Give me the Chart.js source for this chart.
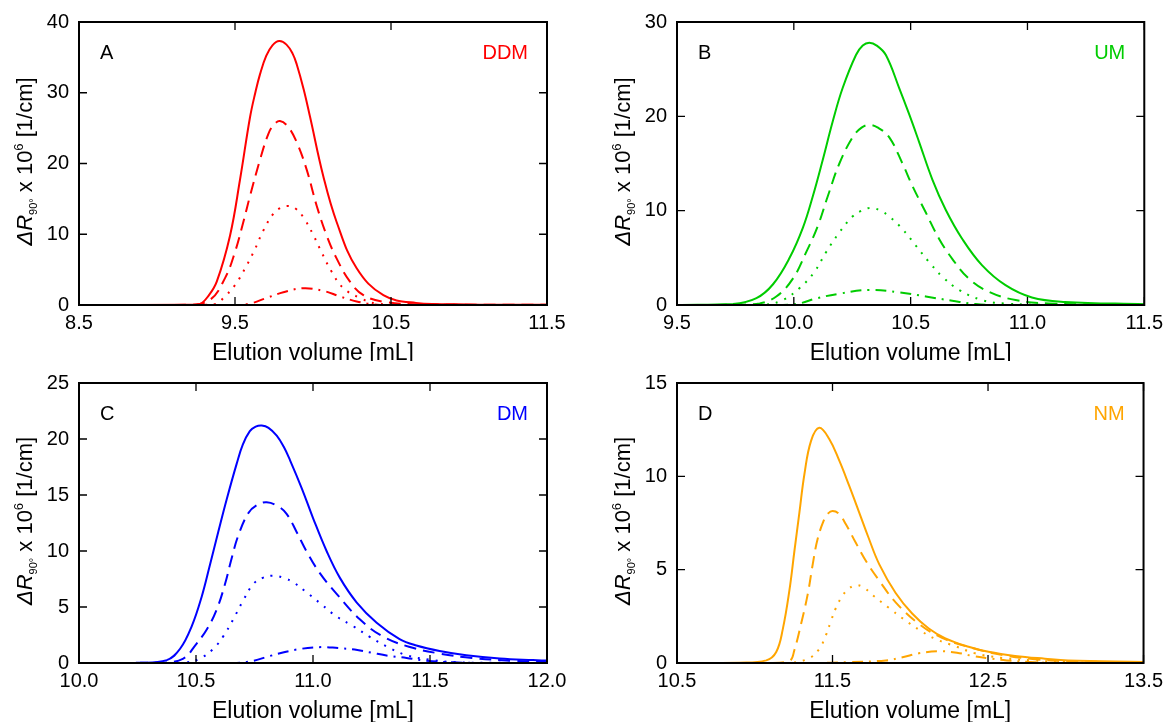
<!DOCTYPE html>
<html>
<head>
<meta charset="utf-8">
<script src="https://cdn.jsdelivr.net/npm/chart.js@4"></script>
<style>
  html, body { margin:0; padding:0; background:#fff; }
  #wrap { position:relative; width:1169px; height:722px; overflow:hidden; }
  #wrap canvas { position:absolute; }
</style>
</head>
<body>
<div id="wrap">
  <canvas id="cA" width="584" height="361" style="left:0;top:0"></canvas>
  <canvas id="cB" width="585" height="361" style="left:584px;top:0"></canvas>
  <canvas id="cC" width="584" height="361" style="left:0;top:361px"></canvas>
  <canvas id="cD" width="585" height="361" style="left:584px;top:361px"></canvas>
</div>
<script>
// elution volume [mL], dR90 x 10^6 [1/cm]
const ddmSolid = [[8.5,0],[9.2,0.05],[9.276,0.15],[9.33,1.3],[9.383,3.3],[9.468,9.8],[9.532,17.7],[9.596,26.5],[9.63,30.0],[9.66,32.6],[9.70,35.2],[9.74,36.7],[9.784,37.3],[9.83,36.8],[9.87,35.5],[9.896,34.0],[9.94,30.5],[9.981,26.6],[10.066,18.2],[10.152,11.7],[10.28,5.2],[10.451,1.4],[10.66,0.3],[11.0,0.08],[11.5,0.03]];
const ddmDashed = [[8.5,0],[9.2,0.02],[9.34,0.74],[9.436,3.8],[9.5,7.5],[9.553,11.7],[9.596,15.4],[9.66,20.5],[9.714,24.2],[9.75,25.5],[9.788,26.0],[9.84,25.2],[9.896,23.0],[9.96,19.1],[10.024,14.0],[10.088,9.8],[10.152,6.55],[10.237,3.3],[10.323,1.4],[10.451,0.47],[10.7,0.1],[11.5,0.02]];
const ddmDotted = [[8.5,0],[9.3,0.02],[9.383,0.2],[9.426,1.0],[9.5,2.8],[9.575,5.6],[9.628,7.9],[9.681,10.5],[9.746,12.9],[9.79,13.7],[9.842,14.0],[9.89,13.6],[9.938,12.4],[10.002,9.9],[10.056,7.4],[10.12,4.7],[10.194,2.4],[10.301,1.0],[10.408,0.2],[10.6,0.05],[11.5,0]];
const ddmDashDot = [[8.5,0],[9.5,0],[9.596,0.2],[9.703,1.0],[9.81,1.8],[9.938,2.37],[10.066,2.0],[10.173,1.2],[10.28,0.5],[10.387,0.1],[10.5,0],[11.5,0]];

const umSolid = [[9.5,0],[9.74,0.1],[9.84,0.73],[9.911,2.2],[9.982,5.0],[10.039,8.2],[10.081,11.5],[10.124,15.4],[10.167,19.5],[10.209,23.0],[10.266,26.5],[10.295,27.5],[10.323,27.8],[10.355,27.5],[10.394,26.5],[10.451,23.0],[10.494,20.2],[10.536,17.3],[10.593,13.3],[10.65,10.1],[10.721,7.0],[10.806,4.2],[10.906,2.1],[11.019,0.8],[11.161,0.33],[11.5,0.08]];
const umDashed = [[9.5,0],[9.75,0.03],[9.854,0.17],[9.925,0.9],[9.996,2.8],[10.053,5.6],[10.103,8.4],[10.145,11.5],[10.195,15.0],[10.252,17.8],[10.29,18.8],[10.323,19.1],[10.36,18.8],[10.408,17.8],[10.465,15.0],[10.508,12.6],[10.565,9.8],[10.622,7.0],[10.678,4.9],[10.749,2.8],[10.835,1.4],[10.949,0.52],[11.091,0.17],[11.5,0.03]];
const umDotted = [[9.5,0],[9.8,0],[9.882,0.05],[9.953,0.52],[10.025,1.8],[10.088,3.5],[10.138,5.6],[10.195,7.7],[10.252,9.4],[10.29,10.0],[10.33,10.3],[10.37,10.0],[10.408,9.4],[10.465,8.05],[10.522,6.3],[10.579,4.55],[10.636,3.0],[10.707,1.6],[10.806,0.52],[10.906,0.15],[11.1,0.03],[11.5,0]];
const umDashDot = [[9.5,0],[9.953,0],[10.025,0.17],[10.096,0.7],[10.195,1.2],[10.323,1.6],[10.451,1.35],[10.565,0.9],[10.678,0.45],[10.778,0.1],[10.9,0],[11.5,0]];

const dmSolid = [[10.0,0],[10.261,0.02],[10.375,0.26],[10.432,1.27],[10.482,3.3],[10.524,5.9],[10.56,8.8],[10.595,11.7],[10.631,14.6],[10.674,17.8],[10.70,19.5],[10.73,20.7],[10.755,21.1],[10.781,21.2],[10.81,21.0],[10.845,20.3],[10.875,19.3],[10.902,18.1],[10.952,15.6],[11.001,12.9],[11.058,10.0],[11.115,7.6],[11.187,5.4],[11.272,3.6],[11.37,2.14],[11.442,1.56],[11.541,1.07],[11.655,0.69],[11.798,0.4],[11.94,0.26],[12.0,0.22]];
const dmDashed = [[10.0,0],[10.35,0.03],[10.446,0.4],[10.496,1.56],[10.546,3.0],[10.588,4.75],[10.624,7.05],[10.653,9.4],[10.681,11.4],[10.724,13.4],[10.76,14.1],[10.802,14.35],[10.85,14.0],[10.888,13.3],[10.93,11.7],[10.973,9.95],[11.03,8.0],[11.1,6.2],[11.2,3.9],[11.3,2.35],[11.41,1.45],[11.54,0.85],[11.68,0.45],[11.85,0.2],[12.0,0.1]];
const dmDotted = [[10.0,0],[10.4,0],[10.46,0.05],[10.517,0.4],[10.574,1.27],[10.617,2.4],[10.659,3.9],[10.702,5.6],[10.745,7.05],[10.785,7.6],[10.83,7.8],[10.875,7.6],[10.916,7.2],[10.971,6.34],[11.036,5.24],[11.1,4.17],[11.171,3.3],[11.242,2.34],[11.32,1.42],[11.4,0.69],[11.5,0.3],[11.6,0.08],[11.8,0.02],[12.0,0]];
const dmDashDot = [[10.0,0],[10.659,0],[10.745,0.2],[10.816,0.63],[10.93,1.2],[11.036,1.42],[11.107,1.33],[11.178,1.2],[11.25,0.92],[11.32,0.65],[11.4,0.45],[11.48,0.22],[11.6,0.06],[11.75,0],[12.0,0]];

const nmSolid = [[10.5,0],[10.903,0.02],[11.074,0.14],[11.138,0.59],[11.18,1.8],[11.223,3.9],[11.255,6.0],[11.287,8.05],[11.319,10.1],[11.362,11.9],[11.415,12.6],[11.479,12.0],[11.543,10.85],[11.607,9.5],[11.67,8.1],[11.73,6.75],[11.8,5.3],[11.906,3.75],[12.012,2.65],[12.119,1.85],[12.226,1.32],[12.375,0.87],[12.503,0.6],[12.674,0.38],[12.866,0.23],[13.015,0.14],[13.5,0.06]];
const nmDashed = [[10.5,0],[11.1,0],[11.223,0.1],[11.255,0.7],[11.298,2.1],[11.341,3.7],[11.373,5.3],[11.405,6.67],[11.447,7.7],[11.47,8.0],[11.5,8.14],[11.54,8.0],[11.585,7.45],[11.649,6.45],[11.72,5.4],[11.799,4.43],[11.906,3.25],[12.055,2.1],[12.204,1.35],[12.4,0.8],[12.6,0.42],[12.8,0.2],[13.0,0.1],[13.5,0.03]];
const nmDotted = [[10.5,0],[11.15,0],[11.244,0.02],[11.351,0.26],[11.415,0.76],[11.458,1.5],[11.49,2.25],[11.522,2.95],[11.564,3.6],[11.6,3.95],[11.649,4.17],[11.7,4.05],[11.756,3.65],[11.863,2.95],[11.959,2.34],[12.066,1.73],[12.172,1.25],[12.29,0.9],[12.417,0.52],[12.598,0.26],[12.78,0.14],[13.0,0.05],[13.5,0]];
const nmDashDot = [[10.5,0],[11.4,0],[11.607,0.05],[11.843,0.14],[11.95,0.31],[12.055,0.52],[12.18,0.63],[12.3,0.55],[12.406,0.37],[12.5,0.26],[12.62,0.14],[12.8,0.04],[13.0,0],[13.5,0]];

const xTicksA = [8.5, 9.5, 10.5, 11.5];
const xTicksB = [9.5, 10.0, 10.5, 11.0, 11.5];
const xTicksC = [10.0, 10.5, 11.0, 11.5, 12.0];
const xTicksD = [10.5, 11.5, 12.5, 13.5];
const yTicksA = [0, 10, 20, 30, 40];
const yTicksB = [0, 10, 20, 30];
const yTicksC = [0, 5, 10, 15, 20, 25];
const yTicksD = [0, 5, 10, 15];

const FONT = '"Liberation Sans", Arial, sans-serif';
const dashes = [[], [12, 7], [2, 7], [11, 6, 2, 6]];

const framePlugin = {
  id: 'frame',
  afterDraw(chart) {
    const {ctx, chartArea: a, scales: {x, y}} = chart;
    const o = chart.options.plugins.frame;
    ctx.save();
    ctx.strokeStyle = '#000';
    ctx.lineWidth = 1.3;
    ctx.beginPath();
    x.ticks.forEach(t => {
      const px = x.getPixelForValue(t.value);
      ctx.moveTo(px, a.bottom); ctx.lineTo(px, a.bottom - 8);
      ctx.moveTo(px, a.top); ctx.lineTo(px, a.top + 8);
    });
    y.ticks.forEach(t => {
      const py = y.getPixelForValue(t.value);
      ctx.moveTo(a.left, py); ctx.lineTo(a.left + 8, py);
      ctx.moveTo(a.right, py); ctx.lineTo(a.right - 8, py);
    });
    ctx.stroke();
    ctx.lineWidth = 2;
    ctx.strokeRect(a.left, a.top, a.width, a.height);

    // panel letter + sample name
    ctx.font = '20px ' + FONT;
    ctx.textBaseline = 'alphabetic';
    ctx.fillStyle = '#000';
    ctx.textAlign = 'left';
    ctx.fillText(o.letter, a.left + 21, a.top + 37);
    ctx.fillStyle = o.color;
    ctx.textAlign = 'right';
    ctx.fillText(o.name, a.right - 19, a.top + 37);

    // x title
    ctx.fillStyle = '#000';
    ctx.font = '23px ' + FONT;
    ctx.textAlign = 'center';
    ctx.textBaseline = 'middle';
    ctx.fillText('Elution volume [mL]', (a.left + a.right) / 2, a.bottom + 49);

    // y title with sub/superscript
    const parts = [
      {t: 'Δ', f: 'italic 22px ' + FONT, dy: 0},
      {t: 'R', f: 'italic 22px ' + FONT, dy: 0},
      {t: '90°', f: '11px ' + FONT, dy: 5},
      {t: ' x 10', f: '22px ' + FONT, dy: 0},
      {t: '6', f: '13px ' + FONT, dy: -9},
      {t: ' [1/cm]', f: '22px ' + FONT, dy: 0}
    ];
    ctx.textAlign = 'left';
    ctx.textBaseline = 'alphabetic';
    let total = 0;
    parts.forEach(p => { ctx.font = p.f; p.w = ctx.measureText(p.t).width; total += p.w; });
    ctx.translate(a.left - 47, (a.top + a.bottom) / 2 - 2);
    ctx.rotate(-Math.PI / 2);
    let cx = -total / 2;
    parts.forEach(p => { ctx.font = p.f; ctx.fillText(p.t, cx, p.dy); cx += p.w; });
    ctx.restore();
  }
};

function makePanel(id, p) {
  const datasets = p.series.map((s, i) => ({
    data: s.map(d => ({x: d[0], y: d[1]})),
    borderColor: p.color,
    borderWidth: 2,
    borderDash: dashes[i],
    pointRadius: 0,
    fill: false,
    tension: 0.4
  }));
  return new Chart(document.getElementById(id), {
    type: 'line',
    data: {datasets},
    options: {
      responsive: false,
      animation: false,
      devicePixelRatio: 1,
      layout: {padding: {left: 0, top: p.top, right: p.right, bottom: 0}},
      plugins: {
        legend: {display: false},
        tooltip: {enabled: false},
        frame: {letter: p.letter, name: p.name, color: p.color}
      },
      scales: {
        x: {
          type: 'linear', min: p.xMin, max: p.xMax,
          afterFit: s => { s.height = p.xH; },
          afterBuildTicks: s => { s.ticks = p.xTicks.map(v => ({value: v})); },
          grid: {display: false, drawTicks: false},
          border: {display: false},
          ticks: {padding: 6, color: '#000', font: {family: FONT, size: 20}, maxRotation: 0, autoSkip: false,
                  callback: v => Number(v).toFixed(1)}
        },
        y: {
          type: 'linear', min: 0, max: p.yMax,
          afterFit: s => { s.width = p.yW; },
          afterBuildTicks: s => { s.ticks = p.yTicks.map(v => ({value: v})); },
          grid: {display: false, drawTicks: false},
          border: {display: false},
          ticks: {padding: 10, color: '#000', font: {family: FONT, size: 20}, autoSkip: false,
                  callback: v => String(v)}
        }
      }
    },
    plugins: [framePlugin]
  });
}

makePanel('cA', {series: [ddmSolid, ddmDashed, ddmDotted, ddmDashDot], color: '#ff0000', letter: 'A', name: 'DDM',
  xMin: 8.5, xMax: 11.5, yMax: 40, xTicks: xTicksA, yTicks: yTicksA, top: 18, right: 37, yW: 79, xH: 56});
makePanel('cB', {series: [umSolid, umDashed, umDotted, umDashDot], color: '#00cc00', letter: 'B', name: 'UM',
  xMin: 9.5, xMax: 11.5, yMax: 30, xTicks: xTicksB, yTicks: yTicksB, top: 18, right: 23, yW: 93, xH: 56});
makePanel('cC', {series: [dmSolid, dmDashed, dmDotted, dmDashDot], color: '#0000ff', letter: 'C', name: 'DM',
  xMin: 10.0, xMax: 12.0, yMax: 25, xTicks: xTicksC, yTicks: yTicksC, top: 14, right: 37, yW: 79, xH: 59});
makePanel('cD', {series: [nmSolid, nmDashed, nmDotted, nmDashDot], color: '#ffa500', letter: 'D', name: 'NM',
  xMin: 10.5, xMax: 13.5, yMax: 15, xTicks: xTicksD, yTicks: yTicksD, top: 14, right: 23, yW: 93, xH: 59});
</script>
</body>
</html>
